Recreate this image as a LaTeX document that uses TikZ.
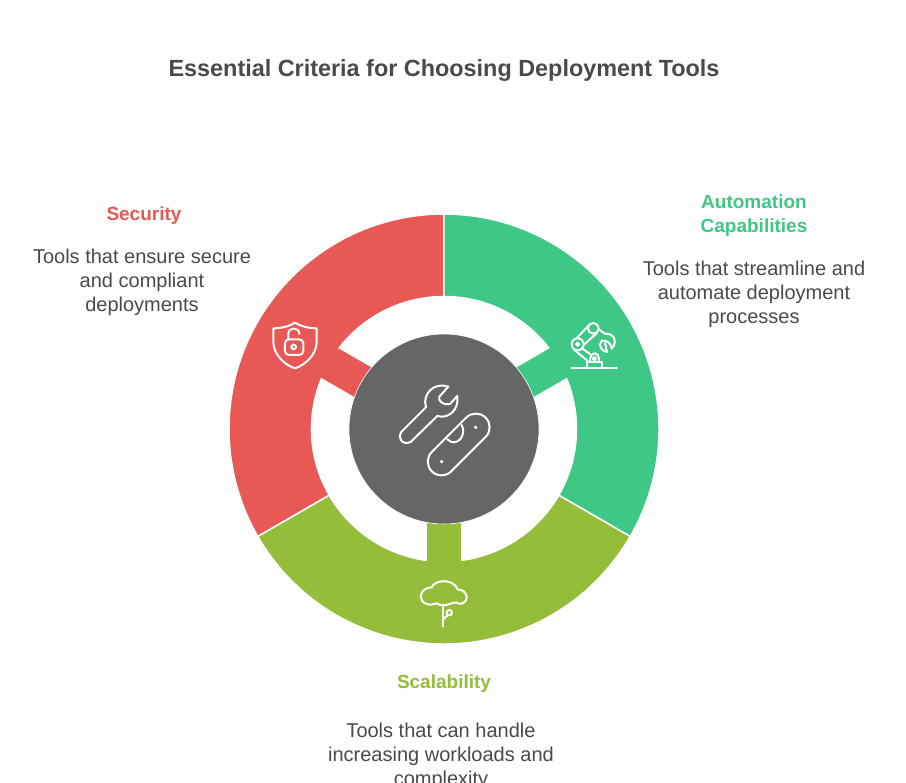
\documentclass[tikz,border=0pt]{standalone}
\usepackage{fontspec}
\setmainfont{Liberation Sans}
\definecolor{securityred}{HTML}{E85854}
\definecolor{autogreen}{HTML}{3EC785}
\definecolor{scaleolive}{HTML}{94BD39}
\definecolor{hubgray}{HTML}{666666}
\definecolor{textgray}{HTML}{4A4A4A}
\newcommand{\ringpart}[4]{%
\fill[#1,draw=white,line width=1.5pt] (#2:215) arc[start angle=#2,end angle=#3,radius=215] -- (#3:132.5) arc[start angle=#3,end angle=#2,radius=132.5] -- cycle;
\fill[#1,rotate=#4] (90,-17) rectangle (135.5,17);}
\begin{document}
\begin{tikzpicture}[x=1pt,y=1pt,
headline/.style={font=\fontsize{23.4}{28}\selectfont\bfseries,text=textgray},
crit/.style={font=\fontsize{19}{24}\selectfont\bfseries,align=center},
desc/.style={font=\fontsize{20}{24}\selectfont,align=center,text=textgray},
glyph/.style={draw=white,line width=2pt,line cap=round,line join=round}]
\useasboundingbox (-444,-354) rectangle (462,429);
\fill[white] (-444,-354) rectangle (462,429);
\node[headline] (title) at (0,358) {Essential Criteria for Choosing Deployment Tools};
\ringpart{securityred}{90}{210}{150}
\ringpart{autogreen}{-30}{90}{30}
\ringpart{scaleolive}{210}{330}{270}
\node[circle,fill=hubgray,draw=white,line width=.6pt,minimum size=190pt,inner sep=0pt] (hub) at (0,0) {};
\node[crit,text=securityred] (security) at (-300,213) {Security};
\node[desc] (securitytext) at (-302,147) {Tools that ensure secure\\and compliant\\deployments};
\node[crit,text=autogreen] (automation) at (310,213) {Automation\\Capabilities};
\node[desc] (automationtext) at (310,135) {Tools that streamline and\\automate deployment\\processes};
\node[crit,text=scaleolive] (scalability) at (0,-255) {Scalability};
\node[desc] (scalabilitytext) at (-3,-327) {Tools that can handle\\increasing workloads and\\complexity};
\begin{scope}[shift={(-104,99)},x=1/3*1pt,y=-1/3*1pt,glyph]
\draw (258,232) -- (183,307) .. controls (172,320) and (185,348) .. (212,336) -- (292,258) .. controls (325,268) and (358,240) .. (352,198) -- (330,222) .. controls (312,228) and (292,212) .. (298,200) -- (325,170) .. controls (285,155) and (245,190) .. (258,232) -- cycle;
\draw (365,285) .. controls (382,315) and (350,355) .. (322,328);
\fill[white] (407,292) circle[radius=5.5];
\fill[white] (305,395) circle[radius=5.5];
\end{scope}
\node[draw=white,line width=2pt,rounded corners=13.6pt,rotate=45,minimum width=76pt,minimum height=27.4pt,inner sep=0pt] (link) at (14.7,-15.5) {};
\begin{scope}[shift={(106,119)},x=1/3*1pt,y=-1/3*1pt,glyph]
\draw (65,173) -- (200,173);
\draw (110,173) -- (110,155) -- (157,155) -- (157,173);
\draw (120,155) .. controls (118,122) and (150,122) .. (147,155);
\draw (133,146) circle[radius=5];
\draw (83,103) circle[radius=18];
\draw (83,103) circle[radius=5];
\draw (130,55) circle[radius=16];
\draw (80,85) -- (118,44);
\draw (72,119) -- (112,152);
\draw (96,115) -- (120,132);
\draw (101,105) -- (142,68);
\draw (146,58) -- (166,72);
\draw (166,72) .. controls (190,68) and (205,95) .. (185,116);
\draw (185,116) .. controls (184,100) and (170,90) .. (155,92);
\draw (155,92) .. controls (143,105) and (155,125) .. (172,126);
\draw (172,126) .. controls (165,112) and (170,105) .. (165,100);
\end{scope}
\begin{scope}[shift={(-184,119)},x=1/3*1pt,y=-1/3*1pt,glyph]
\draw (40,55) .. controls (65,55) and (90,48) .. (105,38) .. controls (120,48) and (145,55) .. (170,55) -- (170,95) .. controls (170,135) and (135,165) .. (105,175) .. controls (75,165) and (40,135) .. (40,95) -- cycle;
\draw[rounded corners=4pt] (75,88) rectangle (130,135);
\draw (101,111) circle[radius=7];
\draw (85,88) -- (85,72) .. controls (85,50) and (118,50) .. (118,72);
\end{scope}
\begin{scope}[shift={(-39,-141)},x=1/3*1pt,y=-1/3*1pt,glyph]
\draw (60,100) .. controls (42,92) and (40,55) .. (80,52) .. controls (90,28) and (145,25) .. (158,58) .. controls (190,60) and (195,98) .. (165,102) .. controls (155,96) and (145,96) .. (135,102) .. controls (125,106) and (105,108) .. (95,100) .. controls (85,104) and (70,106) .. (60,100);
\draw (113,170) -- (113,106);
\draw (113,152) .. controls (120,140) and (125,140) .. (128,136);
\draw (133,128) circle[radius=8];
\end{scope}
\end{tikzpicture}
\end{document}
